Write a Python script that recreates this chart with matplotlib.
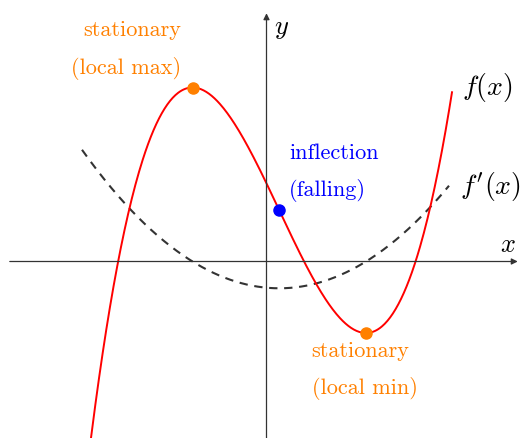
import numpy as np
import matplotlib
matplotlib.use("Agg")
import matplotlib.pyplot as plt

plt.rcParams['mathtext.fontset'] = 'cm'
plt.rcParams['axes.formatter.use_mathtext'] = True

# stationary points of f (local max, local min)
x_max, y_max = -1.48, 3.48
x_min, y_min = 1.99, -1.43
# plotting ranges for f and its (scaled) derivative
f_range = (-3.55, 3.71)
df_range = (-3.69, 3.65)
df_scale = 0.178   # f'(x) drawn as df_scale*(x - x_max)*(x - x_min)

# cubic through both stationary points: f'(x) = k (x - x_max)(x - x_min)
k = 6 * (y_max - y_min) / (x_min - x_max) ** 3


def f(x):
    F = lambda t: k * (t**3 / 3 - (x_max + x_min) * t**2 / 2 + x_max * x_min * t)
    return y_max + F(x) - F(x_max)


def df(x):
    return df_scale * (x - x_max) * (x - x_min)


x_infl = (x_max + x_min) / 2
y_infl = f(x_infl)

fig = plt.figure(figsize=(5.23, 4.39), dpi=100)
ax = fig.add_axes([0, 0, 1, 1])
ax.set_xlim(-5.33, 5.13)
ax.set_ylim(-3.53, 5.25)
ax.axis('off')

# axes with arrow heads
axis_col = '#333333'
ax.annotate('', xy=(5.08, 0), xytext=(-5.19, 0),
            arrowprops=dict(arrowstyle='-|>', color=axis_col, lw=0.9, mutation_scale=9))
ax.annotate('', xy=(0, 5.02), xytext=(0, -3.6),
            arrowprops=dict(arrowstyle='-|>', color=axis_col, lw=0.9, mutation_scale=9))
ax.text(4.83, 0.34, '$x$', fontsize=19, ha='center', va='center')
ax.text(0.31, 4.69, '$y$', fontsize=19, ha='center', va='center')

xs = np.linspace(*df_range, 400)
ax.plot(xs, df(xs), color='#333333', lw=1.5, dashes=(4, 3.2))

xs = np.linspace(*f_range, 400)
ax.plot(xs, f(xs), color='#ff0000', lw=1.4)

ax.text(4.41, 3.5, '$f(x)$', fontsize=20, ha='center', va='center')
ax.text(4.47, 1.52, "$f'(x)$", fontsize=20, ha='center', va='center')

orange = '#ff8000'
ax.plot([x_max, x_min], [y_max, y_min], 'o', color=orange, ms=8, zorder=5)
ax.plot([x_infl], [y_infl], 'o', color='#0000ff', ms=8, zorder=5)

tfont = dict(family='cmr10', fontsize=16, va='center')
ax.text(-2.68, 4.64, 'stationary', color=orange, ha='center', **tfont)
ax.text(-2.81, 3.88, '(local max)', color=orange, ha='center', **tfont)
ax.text(1.87, -1.78, 'stationary', color=orange, ha='center', **tfont)
ax.text(1.97, -2.52, '(local min)', color=orange, ha='center', **tfont)
ax.text(0.456, 2.19, 'inflection', color='#0000ff', ha='left', **tfont)
ax.text(0.456, 1.43, '(falling)', color='#0000ff', ha='left', **tfont)

fig.savefig('out.png', dpi=100)
